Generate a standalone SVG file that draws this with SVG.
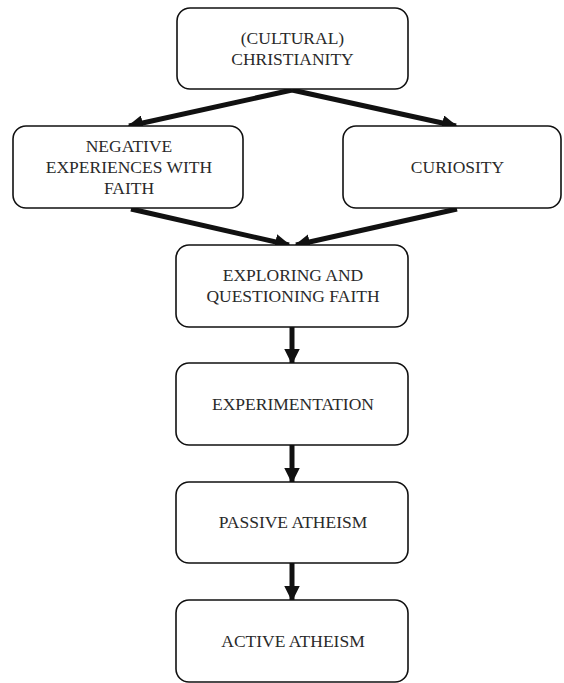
<svg xmlns="http://www.w3.org/2000/svg" width="564" height="683" viewBox="0 0 564 683">
<style>
.box{fill:#fff;stroke:#111;stroke-width:1.6}
.t{font-family:"Liberation Serif","Times New Roman",serif;font-size:17.5px;fill:#2a2a2a;text-anchor:middle}
.c{stroke:#111;stroke-width:5;fill:none}
</style>
<defs>
<marker id="ah" viewBox="0 0 10 10" refX="9" refY="5" markerWidth="3.1" markerHeight="3.1" orient="auto" markerUnits="strokeWidth">
<path d="M0,0 L10,5 L0,10 z" fill="#111"/>
</marker>
</defs>
<rect width="564" height="683" fill="#fff"/>
<g id="connectors">
<path class="c" d="M292,90 L129,126" marker-end="url(#ah)"/>
<path class="c" d="M292,90 L456,126" marker-end="url(#ah)"/>
<path class="c" d="M131,209 L289,245" marker-end="url(#ah)"/>
<path class="c" d="M457,209 L296,245" marker-end="url(#ah)"/>
<path class="c" d="M292,327 L292,363" marker-end="url(#ah)"/>
<path class="c" d="M292,445 L292,482" marker-end="url(#ah)"/>
<path class="c" d="M292,563 L292,600" marker-end="url(#ah)"/>
</g>
<g id="n-christianity">
<rect class="box" x="177" y="8" width="231" height="81" rx="13"/>
<text class="t" x="292.5" y="44">(CULTURAL)</text>
<text class="t" x="292.5" y="65">CHRISTIANITY</text>
</g>
<g id="n-negative">
<rect class="box" x="13" y="126" width="230" height="82" rx="13"/>
<text class="t" x="129" y="152">NEGATIVE</text>
<text class="t" x="129" y="173">EXPERIENCES WITH</text>
<text class="t" x="129" y="194">FAITH</text>
</g>
<g id="n-curiosity">
<rect class="box" x="343" y="126" width="218" height="82" rx="13"/>
<text class="t" x="457.5" y="173">CURIOSITY</text>
</g>
<g id="n-exploring">
<rect class="box" x="176" y="245" width="232" height="82" rx="13"/>
<text class="t" x="293" y="281">EXPLORING AND</text>
<text class="t" x="293" y="302">QUESTIONING FAITH</text>
</g>
<g id="n-experimentation">
<rect class="box" x="176" y="363" width="232" height="82" rx="13"/>
<text class="t" x="293" y="410">EXPERIMENTATION</text>
</g>
<g id="n-passive">
<rect class="box" x="176" y="482" width="232" height="81" rx="13"/>
<text class="t" x="293" y="528">PASSIVE ATHEISM</text>
</g>
<g id="n-active">
<rect class="box" x="176" y="600" width="232" height="82" rx="13"/>
<text class="t" x="293" y="647">ACTIVE ATHEISM</text>
</g>
</svg>
